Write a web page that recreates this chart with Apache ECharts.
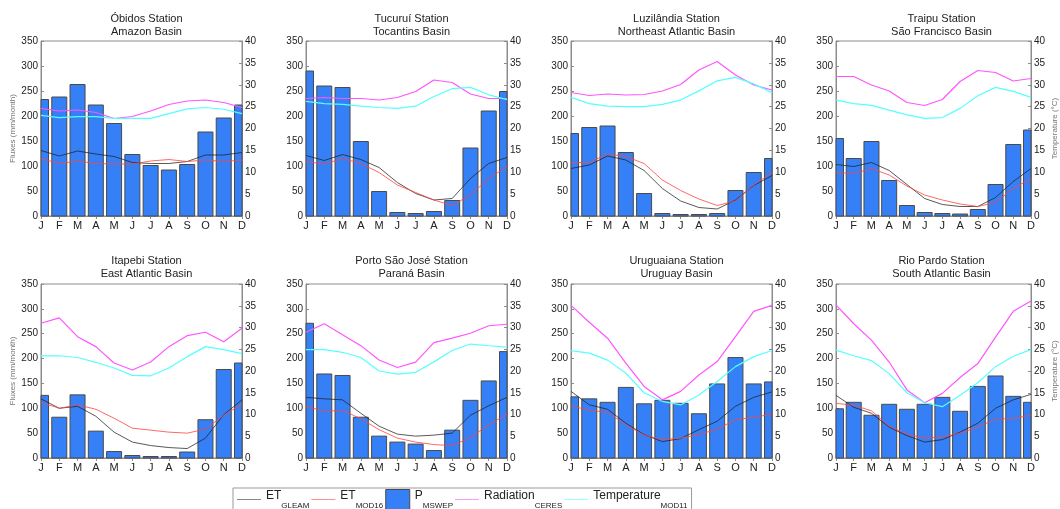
<!DOCTYPE html>
<html>
<head>
<meta charset="utf-8">
<script src="https://cdn.jsdelivr.net/npm/echarts@6/dist/echarts.min.js"></script>
<style>html,body{margin:0;padding:0;background:#fff;}#c{width:1060px;height:509px;}</style>
</head>
<body>
<div id="c"></div>
<script>
const months = ['J','F','M','A','M','J','J','A','S','O','N','D'];
const stations = ['Óbidos Station','Tucuruí Station','Luzilândia Station','Traipu Station','Itapebi Station','Porto São José Station','Uruguaiana Station','Rio Pardo Station'];
const basins = ['Amazon Basin','Tocantins Basin','Northeast Atlantic Basin','São Francisco Basin','East Atlantic Basin','Paraná Basin','Uruguay Basin','South Atlantic Basin'];
const fluxTicks = [0,50,100,150,200,250,300,350];
const tempTicks = [0,5,10,15,20,25,30,35,40];

// Precipitation P_MSWEP (mm/month)
const pMswep = [
  [233,238,263,222,185,123,101,92,103,168,196,222],
  [290,260,257,149,49,7,5,9,31,136,210,249],
  [165,177,180,127,45,5,3,3,5,51,87,115],
  [155,115,149,71,21,7,5,4,13,63,143,172],
  [126,82,127,54,13,5,3,3,12,77,178,191],
  [271,169,166,82,44,32,28,15,56,116,155,214],
  [123,119,112,142,109,116,110,89,149,202,149,153],
  [99,112,86,108,98,108,122,94,144,165,124,112]
];
// ET_GLEAM (mm/month)
const etGleam = [
  [131,120,130,124,119,107,105,105,109,122,122,127],
  [121,111,123,113,97,67,45,32,35,75,105,117],
  [95,102,120,112,91,55,30,17,14,32,61,81],
  [103,99,107,91,63,35,23,19,19,37,69,95],
  [119,100,104,84,52,32,25,21,19,40,87,117],
  [122,119,117,90,64,48,44,46,50,86,105,122],
  [134,107,98,70,47,33,39,57,74,104,122,133],
  [126,102,90,62,45,32,37,52,70,100,117,128]
];
// ET_MOD16 (mm/month)
const etMod16 = [
  [115,105,110,105,104,104,110,113,109,112,109,112],
  [109,104,115,105,87,62,47,32,21,42,75,99],
  [107,107,124,119,105,72,51,34,21,30,62,87],
  [87,85,95,82,60,42,32,24,19,27,55,75],
  [112,100,107,98,80,60,56,52,50,58,86,108],
  [104,94,96,79,57,40,32,27,25,41,67,88],
  [105,96,92,67,46,37,40,47,58,77,82,88],
  [110,106,95,64,48,40,42,50,62,78,80,86]
];
// Radiation_CERES (W/m², left axis)
const radCeres = [
  [215,210,212,207,195,199,210,223,230,232,227,217],
  [235,237,235,235,232,237,249,272,267,244,235,235],
  [247,241,244,242,243,250,263,292,309,282,262,252],
  [279,279,262,250,227,221,233,269,291,287,270,275],
  [271,282,244,224,191,177,193,224,246,253,234,261],
  [253,270,248,226,197,182,193,232,241,251,266,269],
  [307,273,241,191,144,117,134,167,194,244,295,307],
  [308,270,237,193,137,111,130,162,190,243,295,316]
];
// Temperature_MOD11 (°C, right axis)
const tempMod11 = [
  [23.0,22.5,22.7,22.7,22.3,22.3,22.3,23.4,24.5,24.8,24.4,23.4],
  [26.2,25.7,25.5,25.1,24.8,24.6,25.1,27.3,29.1,29.4,27.7,26.6],
  [27.1,25.7,25.1,25.0,25.0,25.5,26.5,28.6,30.9,31.7,30.2,28.2],
  [26.5,25.7,25.3,24.2,23.1,22.3,22.5,24.6,27.5,29.4,28.5,27.1],
  [23.5,23.5,23.1,22.0,20.7,19.0,18.9,20.7,23.3,25.6,24.9,24.0],
  [24.9,24.9,24.3,23.1,20.0,19.3,19.7,22.1,24.7,26.2,25.8,25.5],
  [24.7,24.1,22.5,19.5,15.0,13.0,12.2,14.5,17.6,21.0,23.3,24.7],
  [24.8,23.5,22.4,19.4,15.0,12.7,11.8,14.4,17.3,21.0,23.4,24.9]
];

const FONT = '"Liberation Sans", Arial, sans-serif';
const colLeft = [41, 306, 571, 836];
const rowTop = [41, 284];
const frame = '#8c8c8c';
const barFill = '#3580f6', barStroke = '#4a4a4a';

function renderBar(params, api) {
  const cs = params.coordSys;
  const top = api.coord([api.value(0), api.value(1)]);
  const base = api.coord([api.value(0), 0]);
  const w = 15;
  const rect = echarts.graphic.clipRectByRect(
    {x: top[0] - w / 2, y: top[1], width: w, height: base[1] - top[1]},
    {x: cs.x, y: cs.y, width: cs.width, height: cs.height});
  if (!rect) return null;
  return {type: 'rect', shape: rect, style: {fill: barFill, stroke: barStroke, lineWidth: 1}};
}

const grids = [], xAxes = [], yAxes = [], series = [], titles = [];
for (let i = 0; i < 8; i++) {
  const r = Math.floor(i / 4), c = i % 4;
  const left = colLeft[c], top = rowTop[r];
  const h = r === 0 ? 175 : 174;
  const w = 201;
  grids.push({left: left, top: top, width: w, height: h, show: true, borderColor: frame, borderWidth: 1, backgroundColor: 'transparent'});
  titles.push({
    text: stations[i] + '\n' + basins[i],
    left: left + w / 2, top: r === 0 ? 7 : 249, textAlign: 'center',
    textStyle: {fontFamily: FONT, fontSize: 11, fontWeight: 'normal', color: '#222', lineHeight: 13}
  });
  xAxes.push({
    gridIndex: i, type: 'category', data: months, boundaryGap: false, position: 'bottom',
    axisLine: {show: true, lineStyle: {color: frame}},
    axisTick: {show: false},
    axisLabel: {color: '#222', fontFamily: FONT, fontSize: 11, margin: 4, interval: 0},
    splitLine: {show: false}
  });
  xAxes.push({
    gridIndex: i, type: 'category', data: months, boundaryGap: false, position: 'top',
    axisLine: {show: true, lineStyle: {color: frame}},
    axisTick: {show: true, inside: true, length: 3, alignWithLabel: true, interval: 0, lineStyle: {color: frame}},
    axisLabel: {show: false}, splitLine: {show: false}
  });
  yAxes.push({
    gridIndex: i, type: 'value', min: 0, max: 350, interval: 50, position: 'left',
    name: c === 0 ? 'Fluxes (mm/month)' : '', nameLocation: 'middle', nameRotate: 90, nameGap: 24,
    nameTextStyle: {fontFamily: FONT, fontSize: 8, color: '#777'},
    axisLine: {show: true, lineStyle: {color: frame}},
    axisTick: {show: true, inside: true, length: 3, lineStyle: {color: frame}},
    axisLabel: {color: '#222', fontFamily: FONT, fontSize: 10, margin: 3},
    splitLine: {show: false}
  });
  yAxes.push({
    gridIndex: i, type: 'value', min: 0, max: 40, interval: 5, position: 'right',
    name: c === 3 ? 'Temperature (°C)' : '', nameLocation: 'middle', nameRotate: 90, nameGap: 20,
    nameTextStyle: {fontFamily: FONT, fontSize: 8, color: '#777'},
    axisLine: {show: true, lineStyle: {color: frame}},
    axisTick: {show: true, inside: true, length: 3, lineStyle: {color: frame}},
    axisLabel: {color: '#222', fontFamily: FONT, fontSize: 10, margin: 3},
    splitLine: {show: false}
  });
  const xi = 2 * i, yl = 2 * i, yr = 2 * i + 1;
  series.push({
    name: 'P', type: 'custom', xAxisIndex: xi, yAxisIndex: yl, renderItem: renderBar, z: 2,
    encode: {x: 0, y: 1}, itemStyle: {color: barFill},
    data: pMswep[i].map((v, k) => [k, v])
  });
  const lineCommon = {type: 'line', xAxisIndex: xi, showSymbol: false, symbol: 'none', smooth: false, z: 3, silent: true};
  series.push(Object.assign({}, lineCommon, {name: 'ETG', yAxisIndex: yl, data: etGleam[i], lineStyle: {color: '#222', width: 1, opacity: 0.75}, itemStyle: {color: '#777'}}));
  series.push(Object.assign({}, lineCommon, {name: 'ETM', yAxisIndex: yl, data: etMod16[i], lineStyle: {color: '#ff4444', width: 1, opacity: 0.8}, itemStyle: {color: '#ff8080'}}));
  series.push(Object.assign({}, lineCommon, {name: 'RAD', yAxisIndex: yl, data: radCeres[i], lineStyle: {color: '#ff55ff', width: 1.2}, itemStyle: {color: '#ff88ff'}}));
  series.push(Object.assign({}, lineCommon, {name: 'TMP', yAxisIndex: yr, data: tempMod11[i], lineStyle: {color: '#55ffff', width: 1.2}, itemStyle: {color: '#88ffff'}}));
}

const lineIcon = 'path://M0,0h0.01v0.01h-0.01z M0,19.99h0.01v0.01h-0.01z M0,9.5h24v1h-24z';
const legendNames = {ETG: ['ET','GLEAM'], ETM: ['ET','MOD16'], P: ['P','MSWEP'], RAD: ['Radiation','CERES'], TMP: ['Temperature','MOD11']};

const option = {
  animation: false,
  backgroundColor: '#fff',
  title: titles,
  grid: grids,
  xAxis: xAxes,
  yAxis: yAxes,
  series: series,
  legend: {
    left: 233, top: 488, width: 800,
    padding: [1, 4, 1, 4], itemGap: 2, itemWidth: 24, itemHeight: 20,
    borderColor: '#999', borderWidth: 1, backgroundColor: '#fff',
    selectedMode: false,
    data: [
      {name: 'ETG', icon: lineIcon, itemStyle: {color: '#888'}},
      {name: 'ETM', icon: lineIcon, itemStyle: {color: '#ff9090'}},
      {name: 'P', icon: 'rect', itemStyle: {color: barFill, borderColor: barStroke, borderWidth: 1}},
      {name: 'RAD', icon: lineIcon, itemStyle: {color: '#ff99ff'}},
      {name: 'TMP', icon: lineIcon, itemStyle: {color: '#99ffff'}}
    ],
    formatter: function (n) { const p = legendNames[n]; return '{b|' + p[0] + '}{s|' + p[1] + '}'; },
    textStyle: {
      fontFamily: FONT, color: '#222',
      rich: {
        b: {fontFamily: FONT, fontSize: 12, color: '#222', lineHeight: 20, verticalAlign: 'top', padding: [0,0,5,0]},
        s: {fontFamily: FONT, fontSize: 8, color: '#222', lineHeight: 20, verticalAlign: 'bottom', padding: [8,0,0,0]}
      }
    }
  }
};

const chart = echarts.init(document.getElementById('c'), null, {renderer: 'canvas'});
chart.setOption(option);
</script>
</body>
</html>
